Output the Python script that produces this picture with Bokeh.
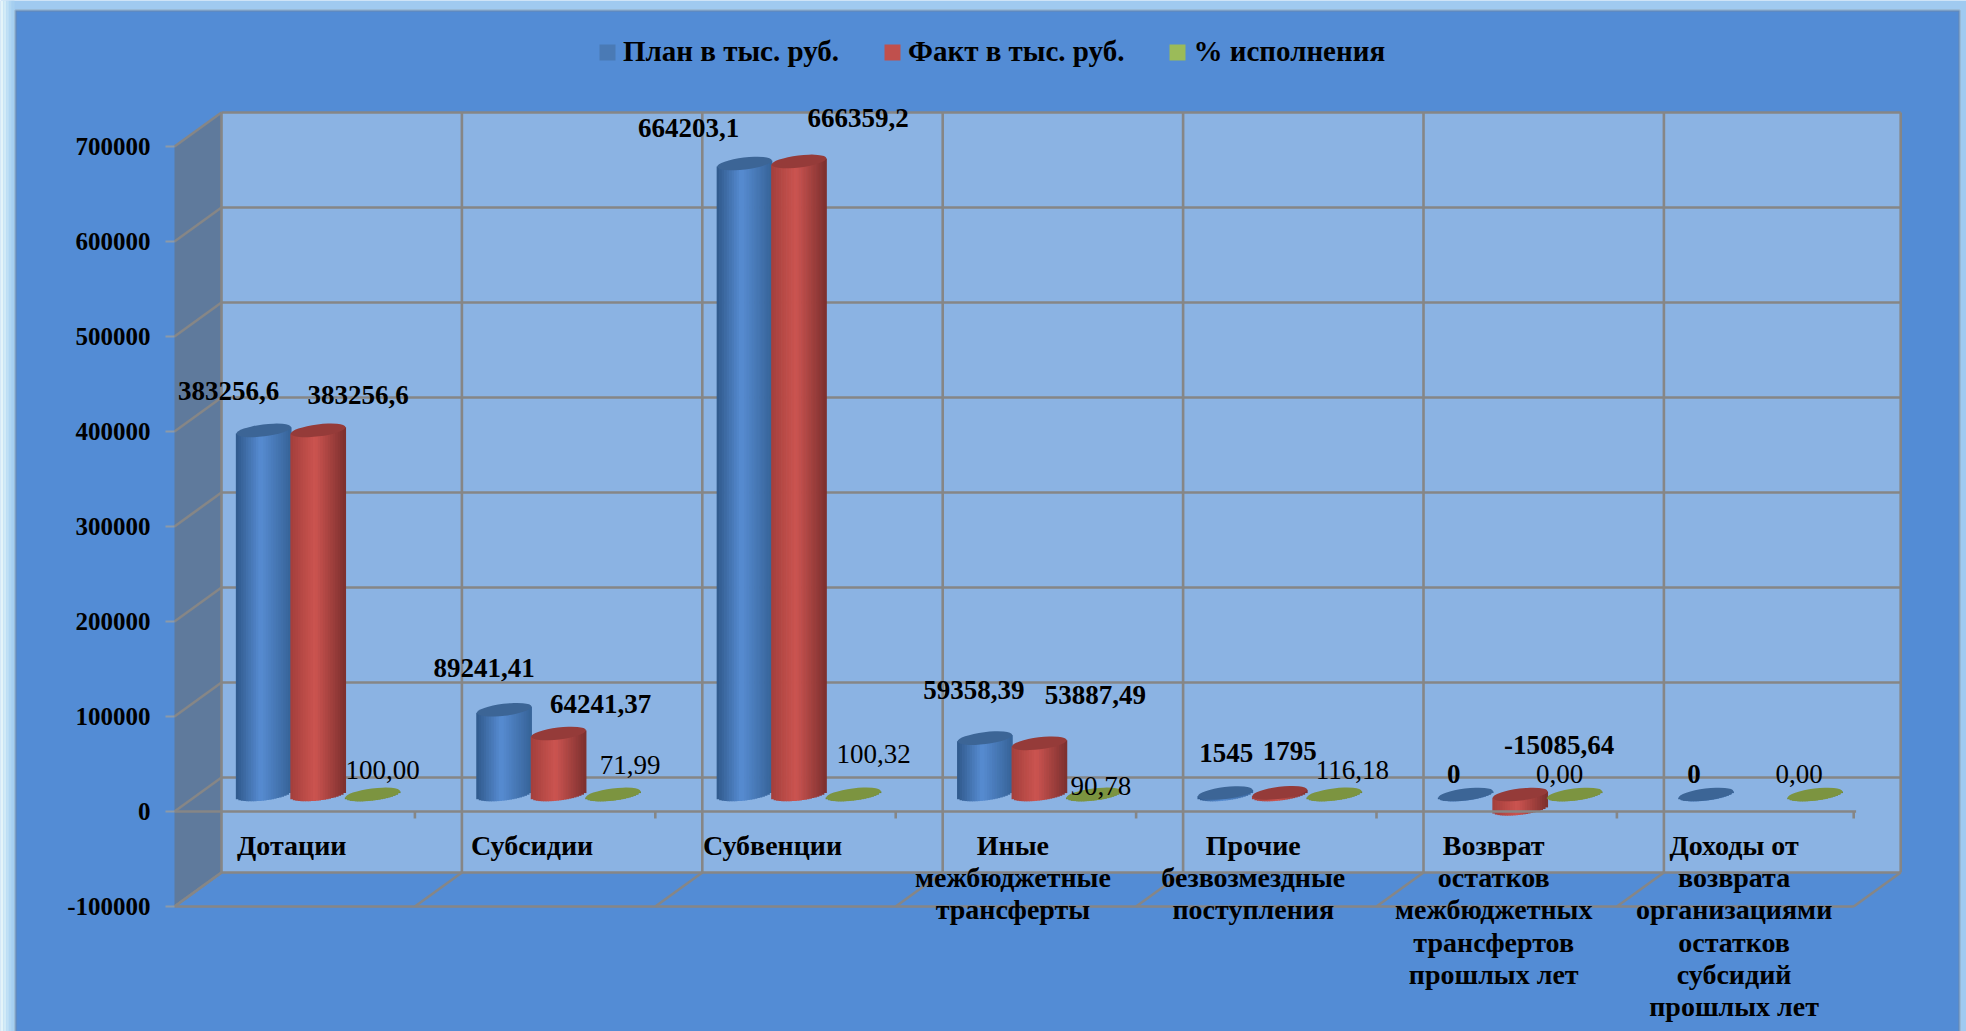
import math
from bokeh.plotting import figure
from bokeh.embed import file_html
from bokeh.resources import INLINE
from bokeh.models import (BasicTickFormatter, BoxAnnotation, ColumnDataSource, FixedTicker, Legend,
                          LegendItem, LinearAxis, Range1d)
from bokeh.core.properties import value

categories = ["Дотации", "Субсидии", "Субвенции", "Иные\nмежбюджетные\nтрансферты",
              "Прочие\nбезвозмездные\nпоступления",
              "Возврат\nостатков\nмежбюджетных\nтрансфертов\nпрошлых лет",
              "Доходы от\nвозврата\nорганизациями\nостатков\nсубсидий\nпрошлых лет"]
plan = [383256.6, 89241.41, 664203.1, 59358.39, 1545, 0, 0]
fact = [383256.6, 64241.37, 666359.2, 53887.49, 1795, -15085.64, None]
pct = [100.00, 71.99, 100.32, 90.78, 116.18, 0.00, 0.00]
plan_labels = ["383256,6", "89241,41", "664203,1", "59358,39", "1545", "0", "0"]
fact_labels = ["383256,6", "64241,37", "666359,2", "53887,49", "1795", "-15085,64", ""]
pct_labels = ["100,00", "71,99", "100,32", "90,78", "116,18", "0,00", "0,00"]
series_names = ["План в тыс. руб.", "Факт в тыс. руб.", "% исполнения"]
y_ticks = [-100000, 0, 100000, 200000, 300000, 400000, 500000, 600000, 700000]

# label nudges in pixels, (right, up) from the top of each bar
plan_nudge = [(-35, 39), (-20, 42), (-56, 36), (-11, 48), (1, 40), (-12, 21), (-12, 21)]
fact_nudge = [(40, 35), (42, 29), (59, 43), (56, 48), (10, 42), (39, 64), (0, 0)]
pct_nudge = [(10, 24), (17, 29), (20, 40), (7, 8), (18, 24), (-15, 21), (-16, 21)]

W, H = 1966, 1031
PX_X = 240.4          # pixels per category
PX_Y = 95.0 / 100000  # pixels per value unit
LEFT = 174            # canvas x of front-left edge
ZERO = 811            # canvas y of value 0 on the front plane
DX = 47 / PX_X        # depth in x units
DY = 34 / PX_Y        # depth in y units
FONT = value("Liberation Serif")
GRID = "#868686"

x0 = -0.5
x1 = 6.485
ymin, ymax = y_ticks[0], y_ticks[-1]

p = figure(width=W, height=H, output_backend="svg", toolbar_location=None,
           x_range=Range1d(x0 - LEFT / PX_X, x0 + (W - LEFT) / PX_X),
           y_range=Range1d((ZERO - H) / PX_Y, ZERO / PX_Y),
           min_border_left=0, min_border_right=0, min_border_top=0, min_border_bottom=0,
           x_axis_location=None, y_axis_location=None)
p.grid.visible = False
p.outline_line_color = None
p.background_fill_color = "#a0caf0"
p.border_fill_color = "#a0caf0"

# picture panel
for i, c in enumerate(["#e4f4f9", "#d2ebf7", "#c0e0f5", "#b0d6f2", "#a6cff0"]):
    p.add_layout(BoxAnnotation(left=i * 2.8, right=(i + 1) * 2.8, top=0, bottom=H,
                               left_units="canvas", right_units="canvas", top_units="canvas",
                               bottom_units="canvas", fill_color=c, fill_alpha=1,
                               line_color=None, level="underlay"))
p.add_layout(BoxAnnotation(left=15, right=1959, top=10, bottom=H + 10,
                           left_units="canvas", right_units="canvas", top_units="canvas",
                           bottom_units="canvas", fill_color="#538cd5", fill_alpha=1,
                           line_color=GRID, line_width=2.5, level="underlay"))

axis = LinearAxis(ticker=FixedTicker(ticks=y_ticks), fixed_location=x0,
                  formatter=BasicTickFormatter(use_scientific=False))
axis.major_label_text_font = "Liberation Serif"
axis.major_label_text_font_style = "bold"
axis.major_label_text_font_size = "25px"
axis.major_label_text_color = "black"
axis.major_label_standoff = 15
axis.major_label_overrides = {-100000: "-100000"}
axis.major_tick_out = 9
axis.major_tick_in = 0
axis.minor_tick_line_color = None
axis.major_tick_line_color = "#8d9aa8"
axis.major_tick_line_width = 2
axis.axis_line_color = None
p.add_layout(axis, "left")

# walls
p.patch([x0, x0 + DX, x0 + DX, x0], [ymax, ymax + DY, ymin + DY, ymin],
        fill_color="#5f7a9c", line_color=None)
p.patch([x0 + DX, x1 + DX, x1 + DX, x0 + DX], [ymax + DY, ymax + DY, ymin + DY, ymin + DY],
        fill_color="#8bb3e3", line_color=None)

# grid lines
seg = dict(xa=[], ya=[], xb=[], yb=[])
def add(xa, ya, xb, yb):
    seg["xa"].append(xa); seg["ya"].append(ya); seg["xb"].append(xb); seg["yb"].append(yb)
for t in y_ticks:
    add(x0, t, x0 + DX, t + DY)
    add(x0 + DX, t + DY, x1 + DX, t + DY)
edges = [x0 + k for k in range(len(categories))] + [x1]
for e in edges:
    add(e + DX, ymax + DY, e + DX, ymin + DY)
    add(e, ymin, e + DX, ymin + DY)
add(x0, ymin, x1, ymin)
p.segment("xa", "ya", "xb", "yb", source=ColumnDataSource(seg), line_color=GRID, line_width=2.6)

# cylinders
A_ = 27.5
B_ = 6.0
TH = math.radians(7)
cs, sn = math.cos(TH), math.sin(TH)
qa = cs**2 / A_**2 + sn**2 / B_**2
qb = 2 * cs * sn * (1 / A_**2 - 1 / B_**2)
qc = sn**2 / A_**2 + cs**2 / B_**2
def ellipse_y(u):
    """upper, lower boundary offsets (pixels, up positive) of the tilted ellipse at offset u"""
    d = max(qb**2 * u**2 - 4 * qc * (qa * u**2 - 1), 0)
    r = math.sqrt(d)
    return (-qb * u + r) / (2 * qc), (-qb * u - r) / (2 * qc), -qb * u / (2 * qc)

def mix(c1, c2, t):
    return "#%02x%02x%02x" % tuple(round(a + (b - a) * t) for a, b in zip(c1, c2))

STYLES = [
    dict(edge_l=(0x2f, 0x58, 0x8a), mid=(0x57, 0x8c, 0xd2), edge_r=(0x36, 0x63, 0x98), top="#3c6596"),
    dict(edge_l=(0xa3, 0x3f, 0x3c), mid=(0xcc, 0x54, 0x50), edge_r=(0x7c, 0x30, 0x2e), top="#953b39"),
    dict(edge_l=(0x6a, 0x84, 0x35), mid=(0x7f, 0x9a, 0x40), edge_r=(0x6a, 0x84, 0x35), top="#7c9440"),
]
GAP = 54.5 / PX_X
N = 22
BASE = DY / 2
SHIFT = DX / 2

strips = dict(x=[], top=[], bottom=[], color=[])
tops = dict(x=[], y=[], color=[])
texts = dict(x=[], y=[], t=[], dx=[], dy=[])
for s, (vals, labs, nudges) in enumerate([(plan, plan_labels, plan_nudge),
                                          (fact, fact_labels, fact_nudge),
                                          (pct, pct_labels, pct_nudge)]):
    st = STYLES[s]
    for i, v in enumerate(vals):
        if v is None:
            continue
        cx = i + SHIFT + (s - 1) * GAP
        hi = max(v, 0)
        lo = min(v, 0)
        for j in range(N):
            u = (j + 0.5) / N * 2 * A_ - A_
            t = (j + 0.5) / N
            color = mix(st["edge_l"], st["mid"], t / 0.45) if t < 0.45 else mix(st["mid"], st["edge_r"], (t - 0.45) / 0.55)
            up, low, mid = ellipse_y(u)
            strips["x"].append(cx + u / PX_X)
            strips["top"].append(BASE + hi + mid / PX_Y)
            strips["bottom"].append(BASE + lo + low / PX_Y)
            strips["color"].append(color)
        tops["x"].append(cx)
        tops["y"].append(BASE + hi)
        tops["color"].append(st["top"])
        if labs[i]:
            texts["x"].append(cx)
            texts["y"].append(BASE + v)
            texts["t"].append(labs[i])
            texts["dx"].append(nudges[i][0])
            texts["dy"].append(-nudges[i][1])

p.vbar(x="x", top="top", bottom="bottom", width=(2 * A_ / N + 0.7) / PX_X,
       source=ColumnDataSource(strips), fill_color="color", line_color=None)
p.ellipse(x="x", y="y", width=2 * A_, height=2 * B_, angle=TH, width_units="screen",
          height_units="screen", source=ColumnDataSource(tops), fill_color="color", line_color=None)

# front zero line and its ticks
front = dict(xa=[x0], ya=[0], xb=[x1 + 0.01], yb=[0])
for e in edges[1:]:
    front["xa"].append(e); front["ya"].append(0)
    front["xb"].append(e); front["yb"].append(-7 / PX_Y)
p.segment("xa", "ya", "xb", "yb", source=ColumnDataSource(front), line_color=GRID, line_width=2.6)

# data labels
n_plan = sum(1 for t in plan_labels if t)
n_fact = sum(1 for t in fact_labels if t)
def slice_src(a, b):
    return ColumnDataSource({k: texts[k][a:b] for k in ("x", "y", "t", "dx", "dy")})
p.text(x="x", y="y", text="t", x_offset="dx", y_offset="dy", source=slice_src(0, n_plan + n_fact),
       text_align="center", text_baseline="middle", text_font=FONT, text_font_style="bold",
       text_font_size="27px", text_color="black")
p.text(x="x", y="y", text="t", x_offset="dx", y_offset="dy", source=slice_src(n_plan + n_fact, None),
       text_align="center", text_baseline="middle", text_font=FONT,
       text_font_size="27px", text_color="black")

# category labels
p.text(x=list(range(len(categories))), y=[0] * len(categories), text=categories, y_offset=[18] * 7,
       x_offset=[-3] * 7, text_align="center", text_baseline="top", text_font=FONT, text_font_style="bold",
       text_font_size="28px", text_line_height=1.045, text_color="black")

# legend
nan = float("nan")
dummies = []
for c in ["#4a7ab5", "#c0504d", "#9bbb59"]:
    dummies.append(p.quad(left=[nan], right=[nan], top=[nan], bottom=[nan], fill_color=c, line_color=None))
legend = Legend(items=[LegendItem(label=n, renderers=[r]) for n, r in zip(series_names, dummies)],
                orientation="horizontal", location=(597, H - 68), margin=0, padding=0,
                spacing=43, glyph_width=20, glyph_height=20, label_standoff=6,
                background_fill_alpha=0, border_line_color=None,
                label_text_font="Liberation Serif", label_text_font_style="bold",
                label_text_font_size="29px", label_text_color="black")
p.add_layout(legend, "center")

open("out.html", "w").write(file_html(p, INLINE))
